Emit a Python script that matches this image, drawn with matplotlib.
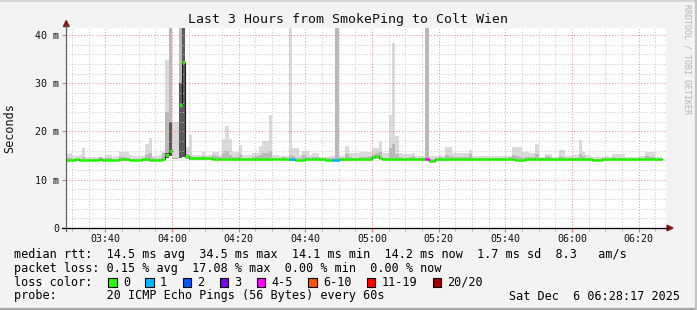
import matplotlib
matplotlib.use("Agg")
import matplotlib.pyplot as plt
from matplotlib.patches import Polygon, Rectangle
from matplotlib.lines import Line2D
from matplotlib.ticker import FixedLocator, MultipleLocator
import numpy as np

W, H = 697, 310
plt.rcParams["font.family"] = ["DejaVu Sans Mono"]

nan = float("nan")

# one bin per minute, first bin starts 03:28; view is 03:28:17 .. 06:28:17
first_bin = 3 * 60 + 28
view_start = 3 * 60 + 28 + 17 / 60
view_len = 180

median_ms = [
    14.1, 14.1, 14.1, 14.2, 14.1, 14.1, 14.1, 14.1, 14.1, 14.1,
    14.4, 14.1, 14.1, 14.1, 14.1, 14.1, 14.4, 14.4, 14.2, 14.1,
    14.1, 14.1, 14.1, 14.2, 14.4, 14.1, 14.1, 14.1, 14.1, 14.2,
    15.1, 16.0, nan, nan, 25.5, 34.4, 14.9, 14.5, 14.5, 14.5,
    14.5, 14.5, 14.5, 14.5, 14.4, 14.4, 14.4, 14.4, 14.4, 14.4,
    14.3, 14.3, 14.3, 14.3, 14.3, 14.3, 14.3, 14.2, 14.3, 14.3,
    14.3, 14.3, 14.4, 14.4, 14.4, 14.4, 14.4, 14.3, 14.3, 14.1,
    14.1, 14.1, 14.4, 14.4, 14.2, 14.2, 14.2, 14.2, 14.1, 14.1,
    14.1, 14.1, 14.3, 14.3, 14.3, 14.2, 14.2, 14.2, 14.2, 14.2,
    14.2, 14.3, 14.8, 14.9, 14.6, 14.2, 14.2, 14.2, 14.3, 14.3,
    14.3, 14.2, 14.2, 14.3, 14.3, 14.2, 14.2, 14.3, 14.4, 13.9,
    13.9, 14.2, 14.3, 14.3, 14.3, 14.2, 14.2, 14.2, 14.2, 14.3,
    14.3, 14.2, 14.2, 14.2, 14.2, 14.2, 14.2, 14.2, 14.2, 14.2,
    14.2, 14.2, 14.2, 14.4, 14.4, 14.1, 14.1, 14.1, 14.3, 14.3,
    14.3, 14.3, 14.2, 14.2, 14.2, 14.2, 14.2, 14.2, 14.2, 14.2,
    14.2, 14.2, 14.2, 14.2, 14.2, 14.2, 14.2, 14.2, 14.1, 14.1,
    14.1, 14.2, 14.2, 14.2, 14.2, 14.2, 14.2, 14.2, 14.2, 14.2,
    14.2, 14.2, 14.2, 14.4, 14.4, 14.2, 14.4, 14.2, 14.2,
]

smoke_min = [
    13.8, 13.8, 13.8, 13.9, 13.8, 13.8, 13.8, 13.8, 13.8, 13.8,
    13.9, 13.8, 13.8, 13.8, 13.8, 13.8, 13.9, 13.9, 13.9, 13.8,
    13.8, 13.8, 13.8, 13.9, 13.9, 13.8, 13.8, 13.8, 13.8, 13.9,
    14.6, 15.0, 14.4, 14.4, 14.6, 14.8, 14.2, 14.0, 14.0, 14.0,
    14.1, 14.1, 14.1, 14.1, 14.0, 14.0, 14.0, 14.0, 14.0, 14.0,
    13.9, 13.9, 13.9, 13.9, 13.9, 13.9, 13.9, 13.8, 13.9, 13.9,
    13.9, 13.9, 14.0, 14.0, 14.0, 14.0, 14.0, 13.9, 13.9, 13.8,
    13.8, 13.8, 14.0, 14.0, 13.9, 13.9, 13.9, 13.9, 13.8, 13.8,
    13.8, 13.8, 13.9, 13.9, 13.9, 13.9, 13.9, 13.9, 13.9, 13.9,
    13.9, 13.9, 14.3, 14.4, 14.2, 13.9, 13.9, 13.9, 13.9, 13.9,
    13.9, 13.9, 13.9, 13.9, 13.9, 13.9, 13.9, 13.9, 14.0, 13.6,
    13.6, 13.9, 13.9, 13.9, 13.9, 13.9, 13.9, 13.9, 13.9, 13.9,
    13.9, 13.9, 13.9, 13.9, 13.9, 13.9, 13.9, 13.9, 13.9, 13.9,
    13.9, 13.9, 13.9, 14.0, 14.0, 13.8, 13.8, 13.8, 13.9, 13.9,
    13.9, 13.9, 13.9, 13.9, 13.9, 13.9, 13.9, 13.9, 13.9, 13.9,
    13.9, 13.9, 13.9, 13.9, 13.9, 13.9, 13.9, 13.9, 13.8, 13.8,
    13.8, 13.9, 13.9, 13.9, 13.9, 13.9, 13.9, 13.9, 13.9, 13.9,
    13.9, 13.9, 13.9, 14.0, 14.0, 13.9, 14.0, 13.9, 13.9,
]

smoke_mid = [
    14.5, 14.6, 14.4, 14.4, 14.4, 14.8, 14.4, 14.4, 14.4, 14.4,
    14.7, 14.4, 14.5, 14.5, 14.4, 14.4, 14.8, 14.8, 14.6, 14.4,
    14.4, 14.4, 14.4, 14.5, 15.2, 15.6, 14.5, 14.4, 14.6, 15.6,
    24.0, 41.5, 14.5, 14.5, 41.5, 41.5, 15.3, 15.0, 14.8, 14.8,
    14.8, 15.0, 14.8, 14.8, 15.2, 15.0, 14.8, 15.5, 16.0, 15.2,
    14.8, 14.8, 15.3, 14.6, 14.6, 14.6, 14.8, 14.9, 15.2, 15.5,
    15.5, 16.0, 14.6, 14.6, 14.6, 14.7, 14.6, 15.2, 15.0, 14.6,
    14.5, 15.2, 14.8, 14.6, 14.8, 14.8, 14.5, 14.5, 14.5, 14.5,
    14.6, 41.5, 14.5, 14.6, 15.3, 14.7, 14.6, 14.6, 14.8, 14.8,
    14.8, 14.9, 15.3, 15.6, 15.8, 14.6, 14.6, 16.5, 17.5, 15.3,
    14.8, 14.6, 14.6, 14.7, 14.9, 14.5, 14.5, 14.6, 41.5, 14.3,
    14.3, 14.5, 14.7, 14.6, 15.2, 15.0, 14.7, 14.7, 14.7, 14.7,
    14.7, 15.4, 14.6, 14.5, 14.6, 14.5, 14.5, 14.5, 14.6, 14.6,
    14.5, 14.5, 14.5, 14.7, 15.2, 14.9, 14.8, 14.6, 14.8, 14.7,
    14.7, 15.3, 14.5, 14.5, 14.9, 14.8, 14.4, 14.5, 14.9, 14.8,
    14.5, 14.5, 14.6, 14.5, 15.3, 14.9, 14.6, 14.5, 14.4, 14.4,
    14.4, 14.5, 14.6, 14.4, 14.7, 14.6, 14.6, 14.6, 14.4, 14.4,
    14.4, 14.4, 14.5, 14.6, 14.9, 14.8, 14.8, 14.4, 14.4,
]

smoke_max = [
    15.3, 15.6, 15.0, 14.9, 15.2, 16.5, 14.8, 14.8, 14.8, 14.8,
    14.8, 14.8, 15.1, 15.1, 14.8, 14.9, 15.8, 15.8, 15.8, 15.2,
    14.9, 14.9, 14.9, 15.0, 17.5, 18.6, 15.0, 15.0, 15.2, 15.8,
    34.8, 41.5, 22.0, 22.0, 41.5, 41.5, 16.8, 19.3, 15.1, 15.1,
    15.1, 15.8, 15.1, 15.1, 15.8, 15.8, 15.1, 18.4, 21.1, 18.4,
    15.8, 15.8, 17.2, 15.1, 15.1, 15.1, 15.5, 15.5, 17.0, 18.1,
    18.1, 23.4, 15.1, 15.1, 15.0, 15.0, 15.0, 41.5, 16.5, 16.5,
    15.1, 16.0, 16.0, 15.1, 15.5, 15.5, 14.8, 14.8, 14.8, 15.0,
    15.0, 41.5, 15.0, 15.0, 17.0, 15.5, 15.5, 15.5, 15.8, 15.8,
    15.8, 15.8, 16.5, 16.5, 17.9, 15.5, 15.5, 23.4, 38.4, 19.0,
    15.5, 15.3, 15.3, 15.3, 15.6, 15.0, 15.0, 15.0, 41.5, 14.9,
    14.9, 14.9, 15.1, 15.0, 16.8, 16.8, 15.5, 15.5, 15.5, 15.5,
    15.5, 16.1, 15.0, 15.0, 15.0, 15.0, 15.0, 15.0, 15.0, 15.0,
    15.0, 15.0, 15.0, 15.0, 16.7, 16.7, 16.7, 15.8, 15.8, 15.5,
    15.5, 17.4, 14.8, 14.8, 15.3, 15.3, 14.8, 14.8, 16.1, 16.1,
    15.0, 15.0, 15.1, 15.1, 18.2, 15.8, 15.1, 14.9, 14.8, 14.8,
    14.8, 14.8, 15.0, 14.8, 15.3, 15.3, 15.3, 15.3, 14.8, 14.8,
    14.8, 14.8, 14.9, 14.9, 15.8, 15.8, 15.8, 14.8, 14.8,
]

# densest smoke in the 04:00 outage
dark_bins = [30, 31, 34, 35]
dark_top = [15.6, 22.0, 30.0, 41.5]

# bins with lost pings (out of 20)
loss_bins = [67, 68, 80, 81, 108]
loss_pings = [1, 1, 1, 1, 4]

loss_labels = ["0", "1", "2", "3", "4-5", "6-10", "11-19", "20/20"]
loss_colors = ["#26ff00", "#00b8ff", "#0059ff", "#7e00ff",
               "#ff00ff", "#ff5500", "#ff0000", "#a10000"]
loss_limits = [0, 1, 2, 3, 5, 10, 19, 20]

y_ticks = [0, 10, 20, 30, 40]
y_ticklabels = ["0", "10 m", "20 m", "30 m", "40 m"]
x_ticks = [220, 240, 260, 280, 300, 320, 340, 360, 380]
x_ticklabels = ["03:40", "04:00", "04:20", "04:40", "05:00",
                "05:20", "05:40", "06:00", "06:20"]

title = "Last 3 Hours from SmokePing to Colt Wien"
legend_rtt = "median rtt:  14.5 ms avg  34.5 ms max  14.1 ms min  14.2 ms now  1.7 ms sd  8.3   am/s"
legend_loss = "packet loss: 0.15 % avg  17.08 % max  0.00 % min  0.00 % now"
probe_text = "probe:       20 ICMP Echo Pings (56 Bytes) every 60s"
stamp = "Sat Dec  6 06:28:17 2025"

n = len(median_ms)
assert len(smoke_min) == n and len(smoke_mid) == n and len(smoke_max) == n


def fx(x):
    return x / W


def fy(y):
    return 1 - y / H


def ext(v):
    v = np.asarray(v, dtype=float)
    return np.append(v, v[-1])


fig = plt.figure(figsize=(W / 100, H / 100), dpi=100, facecolor="#f3f3f3")
ax = fig.add_axes([fx(66.25), 82 / H, 600 / W, 200 / H])
ax.set_facecolor("white")

t = first_bin + np.arange(n + 1)
ax.fill_between(t, ext(smoke_min), ext(smoke_max), step="post",
                color="#dadada", lw=0, zorder=1)
ax.fill_between(t, ext(smoke_min), ext(smoke_mid), step="post",
                color="#b9b9b9", lw=0, zorder=1.1)
for b, top in zip(dark_bins, dark_top):
    ax.fill_between([t[b], t[b] + 1], smoke_min[b], top,
                    color="#5a5a5a", lw=0, zorder=1.2)

# median: thin black step line under loss-coloured segments
med = np.asarray(median_ms, dtype=float)
ax.step(t, ext(med), where="post", color="#202020", lw=0.8, zorder=3)

loss = np.zeros(n, dtype=int)
loss[loss_bins] = loss_pings
cols = [loss_colors[next(k for k, lim in enumerate(loss_limits) if p <= lim)] for p in loss]
ok = np.isfinite(med)
ax.hlines(med[ok], t[:-1][ok], t[1:][ok], colors=np.array(cols)[ok],
          lw=1.9, zorder=4, capstyle="butt")

ax.set_xlim(view_start, view_start + view_len)
ax.set_ylim(0, 41.45)
ax.xaxis.set_major_locator(FixedLocator(x_ticks))
ax.xaxis.set_minor_locator(MultipleLocator(5))
ax.yaxis.set_major_locator(FixedLocator(y_ticks))
ax.yaxis.set_minor_locator(MultipleLocator(2))
ax.set_xticklabels(x_ticklabels)
ax.set_yticklabels(y_ticklabels)

ax.set_axisbelow(False)
ax.grid(which="minor", color="#c4c4c4", ls=(0, (1, 2)), lw=0.7)
ax.grid(which="major", color="#f08a8a", ls=(0, (1, 2)), lw=0.7)

ax.tick_params(axis="x", which="major", length=3, color="#e07070", pad=1.5,
               labelsize=7.2, labelcolor="#111111")
ax.tick_params(axis="x", which="minor", length=2, color="#a0a0a0")
ax.tick_params(axis="y", which="major", length=3, color="#e07070", pad=2,
               labelsize=7.2, labelcolor="#111111")
ax.tick_params(axis="y", which="minor", length=0)
for s in ax.spines.values():
    s.set_visible(False)

# axis lines with arrows (figure pixels)
fig.add_artist(Line2D([fx(62), fx(668)], [fy(228), fy(228)], color="black",
                      lw=0.9, transform=fig.transFigure))
fig.add_artist(Line2D([fx(66.25), fx(66.25)], [fy(231), fy(25)], color="#606060",
                      lw=0.9, transform=fig.transFigure))
fig.add_artist(Polygon([(fx(667), fy(225.2)), (fx(673), fy(228)), (fx(667), fy(230.8))],
                       closed=True, color="#8b1a1a", transform=fig.transFigure))
fig.add_artist(Polygon([(fx(63.4), fy(26.5)), (fx(66.25), fy(20.5)), (fx(69.1), fy(26.5))],
                       closed=True, color="#8b1a1a", transform=fig.transFigure))

# texts
fig.text(fx(348.5), fy(19), title, ha="center", va="center", fontsize=9.5, color="#111111")
fig.text(fx(10), fy(128), "Seconds", rotation=90, ha="center", va="center",
         fontsize=8.5, color="#111111")
fig.text(fx(687.5), fy(4), "RRDTOOL / TOBI OETIKER", rotation=-90, ha="center",
         va="top", fontsize=6, color="#b4b4b4")

fig.text(fx(14.5), fy(254.3), legend_rtt, ha="left", va="center", fontsize=8.5)
fig.text(fx(14.5), fy(268.3), legend_loss, ha="left", va="center", fontsize=8.5)
fig.text(fx(14.5), fy(282.3), "loss color:", ha="left", va="center", fontsize=8.5)
cx = 108.3
for lab, col in zip(loss_labels, loss_colors):
    fig.add_artist(Rectangle((fx(cx), fy(286.7)), 8.5 / W, 9.2 / H, facecolor=col,
                             edgecolor="black", lw=0.8, transform=fig.transFigure))
    fig.text(fx(cx + 14.5), fy(282.3), lab, ha="left", va="center", fontsize=8.5)
    cx += 30 + len(lab) * 7.14
fig.text(fx(14.5), fy(296), probe_text, ha="left", va="center", fontsize=8.5)
fig.text(fx(680), fy(296), stamp, ha="right", va="center", fontsize=8.5)

# frame
fig.add_artist(Line2D([0, 1], [fy(0.5), fy(0.5)], color="#d2d2d2", lw=1.2,
                      transform=fig.transFigure))
fig.add_artist(Line2D([0, 1], [fy(308.8), fy(308.8)], color="#a8a8a8", lw=2.4,
                      transform=fig.transFigure))
fig.add_artist(Line2D([fx(696), fx(696)], [0, 1], color="#c4c4c4", lw=1.6,
                      transform=fig.transFigure))

fig.savefig("out.png", dpi=100, facecolor=fig.get_facecolor())
